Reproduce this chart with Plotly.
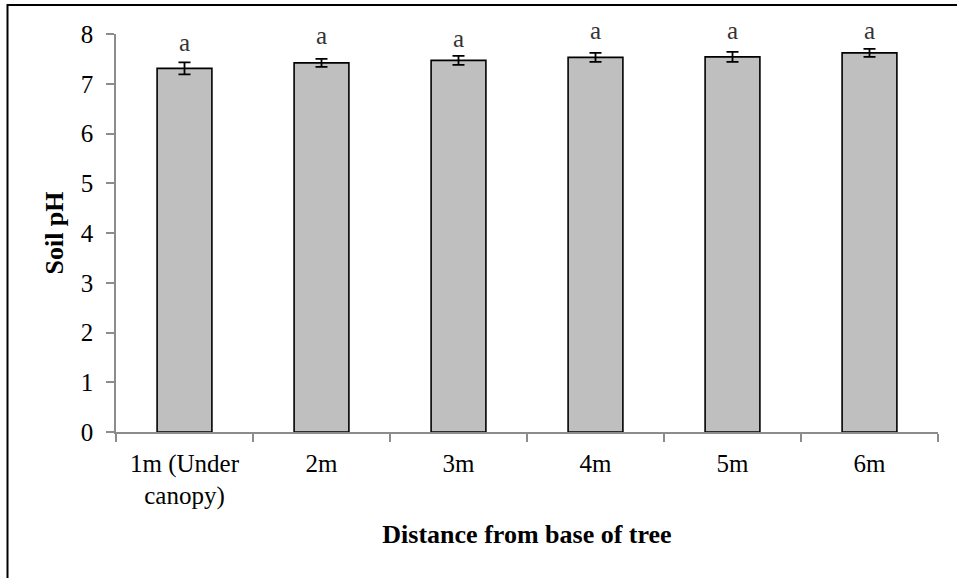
import plotly.graph_objects as go

# Soil pH by distance from the base of the tree (mean ± SE)
distances = ["1m (Under<br>canopy)", "2m", "3m", "4m", "5m", "6m"]
soil_ph = [7.31, 7.42, 7.47, 7.53, 7.54, 7.62]
ph_error = [0.12, 0.08, 0.09, 0.09, 0.10, 0.08]
group_letters = ["a", "a", "a", "a", "a", "a"]
letter_shift = [20, 23, 17, 22, 21, 18]

W, H = 959, 578
L, R, T, B = 116, 21, 34, 146
pw, ph = W - L - R, H - T - B

serif = "Liberation Serif, Times New Roman, serif"

fig = go.Figure()
fig.add_trace(go.Bar(
    x=distances,
    y=soil_ph,
    width=0.4,
    marker=dict(color="#bfbfbf", line=dict(color="#000000", width=1.6)),
    error_y=dict(type="data", array=ph_error, visible=True,
                 color="#000000", thickness=1.8, width=6),
    showlegend=False,
))

# significance letters above each error bar
for cat, v, e, s, t in zip(distances, soil_ph, ph_error, letter_shift, group_letters):
    fig.add_annotation(x=cat, y=v + e, text=t, showarrow=False,
                       yanchor="middle", yshift=s,
                       font=dict(family=serif, size=25, color="#333333"))

# frame line on the left and top of the figure
def px_x(p):
    return (p - L) / pw

def px_y(p):
    return (H - B - p) / ph

fig.add_shape(type="path", xref="paper", yref="paper",
              path=f"M {px_x(7.5)} {px_y(578)} L {px_x(7.5)} {px_y(5)} L {px_x(957)} {px_y(5)}",
              line=dict(color="#000000", width=2))

fig.update_layout(
    width=W, height=H,
    margin=dict(l=L, r=R, t=T, b=B),
    paper_bgcolor="white", plot_bgcolor="white",
    font=dict(family=serif, size=25, color="#000000"),
    bargap=0.6,
)
fig.update_xaxes(
    type="category", tickson="boundaries",
    showline=True, linecolor="#8c8c8c", linewidth=1.5,
    ticks="outside", ticklen=8, tickcolor="#8c8c8c", tickwidth=1.5,
    ticklabelstandoff=8,
    tickfont=dict(family=serif, size=25, color="#000000"),
    title=dict(text="<b>Distance from base of tree</b>", standoff=16,
               font=dict(family=serif, size=26, color="#000000")),
    showgrid=False,
)
fig.update_yaxes(
    range=[0, 8], dtick=1,
    showline=True, linecolor="#8c8c8c", linewidth=1.5,
    ticks="outside", ticklen=8, tickcolor="#8c8c8c", tickwidth=1.5,
    ticklabelstandoff=8,
    tickfont=dict(family=serif, size=25, color="#000000"),
    title=dict(text="<b>Soil pH</b>", standoff=10,
               font=dict(family=serif, size=26, color="#000000")),
    showgrid=False, zeroline=False,
)

fig.write_html("out.html")
